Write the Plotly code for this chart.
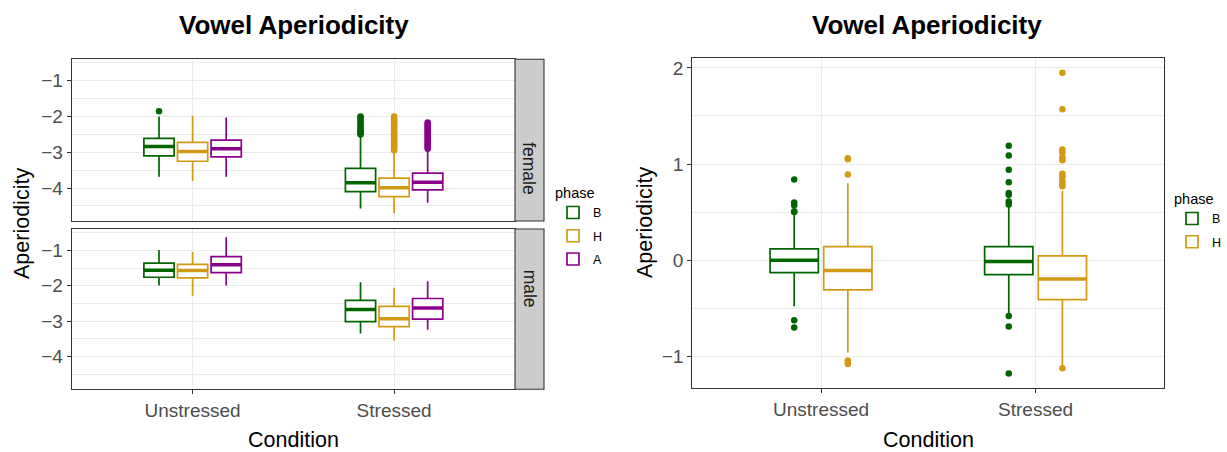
import plotly.graph_objects as go

# ---------------- data ----------------
conditions = ["Unstressed", "Stressed"]
left_phases = ["B", "H", "A"]
right_phases = ["B", "H"]
colors = {"B": "#006400", "H": "#D09A14", "A": "#8B008B"}

# female facet, values per condition [Unstressed, Stressed]
female_lo = {"B": [-3.68, -4.57], "H": [-3.80, -4.70], "A": [-3.68, -4.41]}
female_q1 = {"B": [-3.10, -4.10], "H": [-3.25, -4.24], "A": [-3.13, -4.05]}
female_med = {"B": [-2.84, -3.85], "H": [-2.98, -3.99], "A": [-2.90, -3.84]}
female_q3 = {"B": [-2.61, -3.45], "H": [-2.72, -3.72], "A": [-2.66, -3.58]}
female_hi = {"B": [-2.00, -2.55], "H": [-1.98, -3.00], "A": [-2.03, -2.94]}
female_out = {
    "B": [[-1.85],
          [-2.00, -2.03, -2.09, -2.14, -2.20, -2.26, -2.32, -2.36, -2.41, -2.44, -2.47, -2.50]],
    "H": [[],
          [-2.00, -2.04, -2.08, -2.11, -2.15, -2.19, -2.23, -2.27, -2.30, -2.34, -2.38, -2.42,
           -2.46, -2.50, -2.54, -2.58, -2.62, -2.66, -2.70, -2.74, -2.78, -2.82, -2.86, -2.90, -2.94]],
    "A": [[],
          [-2.17, -2.21, -2.25, -2.30, -2.34, -2.38, -2.43, -2.47, -2.51, -2.56, -2.60, -2.65,
           -2.69, -2.73, -2.78, -2.82, -2.86, -2.90]],
}

# male facet
male_lo = {"B": [-1.99, -3.35], "H": [-2.28, -3.55], "A": [-1.99, -3.24]}
male_q1 = {"B": [-1.76, -3.01], "H": [-1.78, -3.15], "A": [-1.63, -2.94]}
male_med = {"B": [-1.56, -2.67], "H": [-1.57, -2.93], "A": [-1.41, -2.63]}
male_q3 = {"B": [-1.36, -2.41], "H": [-1.40, -2.58], "A": [-1.18, -2.36]}
male_hi = {"B": [-0.99, -1.90], "H": [-1.05, -2.06], "A": [-0.63, -1.87]}
male_out = {"B": [[], []], "H": [[], []], "A": [[], []]}

# right panel (normalised)
all_lo = {"B": [-0.48, -0.56], "H": [-0.96, -1.10]}
all_q1 = {"B": [-0.13, -0.15], "H": [-0.31, -0.41]}
all_med = {"B": [0.00, -0.015], "H": [-0.108, -0.195]}
all_q3 = {"B": [0.118, 0.14], "H": [0.14, 0.045]}
all_hi = {"B": [0.47, 0.56], "H": [0.80, 0.72]}
all_out = {
    "B": [[0.84, 0.60, 0.57, 0.51, 0.50, -0.625, -0.70],
          [1.19, 1.09, 0.94, 0.81, 0.70, 0.68, 0.61, 0.58, -0.58, -0.69, -1.18]],
    "H": [[1.06, 1.05, 0.89, -1.045, -1.06, -1.08],
          [1.95, 1.57, 1.15, 1.12, 1.07, 1.04, 0.90, 0.88, 0.86, 0.82, 0.79, 0.77, -1.125]],
}

left_yticks = [-4, -3, -2, -1]
left_yminor = [-4.5, -3.5, -2.5, -1.5, -0.5]
right_yticks = [-1, 0, 1, 2]
right_yminor = [-0.5, 0.5, 1.5]

# ---------------- layout helpers ----------------
W, H = 1227, 452
FONT = "Liberation Sans"
TICKC = "#4D4D4D"
BORDER = "#333333"
GRID = "#EBEBEB"


def fx(x):
    return x / W


def fy(y):
    return 1 - y / H


fig = go.Figure()


def add_panel(xa, ya, phases, lo, q1, med, q3, hi, out, legend, showlegend):
    n = len(phases)
    dodge = 0.5
    slot = dodge / n
    bw = slot * 0.9
    for i, ph in enumerate(phases):
        offs = (i - (n - 1) / 2) * slot
        pos = [j + 1 + offs for j in range(len(conditions))]
        col = colors[ph]
        fig.add_trace(go.Box(
            x=pos, q1=q1[ph], median=med[ph], q3=q3[ph],
            lowerfence=lo[ph], upperfence=hi[ph],
            width=bw, whiskerwidth=0, boxpoints=False,
            fillcolor="white", line=dict(color=col, width=1.7),
            name=ph, legendgroup=ph, showlegend=showlegend,
            legend=legend, xaxis=xa, yaxis=ya, hoverinfo="skip",
        ))
        for j in range(len(conditions)):
            fig.add_trace(go.Scatter(
                x=[pos[j] - bw / 2, pos[j] + bw / 2], y=[med[ph][j], med[ph][j]],
                mode="lines", line=dict(color=col, width=3.5),
                showlegend=False, xaxis=xa, yaxis=ya, hoverinfo="skip",
            ))
            if out[ph][j]:
                fig.add_trace(go.Scatter(
                    x=[pos[j]] * len(out[ph][j]), y=out[ph][j], mode="markers",
                    marker=dict(color=col, size=6.5, line=dict(width=0)),
                    showlegend=False, xaxis=xa, yaxis=ya, hoverinfo="skip",
                ))


add_panel("x", "y", left_phases, female_lo, female_q1, female_med, female_q3, female_hi,
          female_out, "legend", True)
add_panel("x2", "y2", left_phases, male_lo, male_q1, male_med, male_q3, male_hi,
          male_out, "legend", False)
add_panel("x3", "y3", right_phases, all_lo, all_q1, all_med, all_q3, all_hi,
          all_out, "legend2", True)

LX = [fx(71.7), fx(515)]
TOPY = [fy(221), fy(59.3)]
BOTY = [fy(389.3), fy(229)]
RX = [fx(692.3), fx(1164.3)]
RY = [fy(388.3), fy(58.3)]

xcommon = dict(range=[0.4, 2.6], tickmode="array", tickvals=[1, 2], ticktext=conditions,
               showgrid=True, gridcolor=GRID, gridwidth=1.1, zeroline=False,
               showline=True, mirror=True, linecolor=BORDER, linewidth=1.1,
               tickfont=dict(family=FONT, size=19, color=TICKC), tickcolor=BORDER)
ycommon = dict(showgrid=True, gridcolor=GRID, gridwidth=1.1, zeroline=False,
               showline=True, mirror=True, linecolor=BORDER, linewidth=1.1,
               ticks="outside", ticklen=4, tickcolor=BORDER, tickwidth=1,
               tickfont=dict(family=FONT, size=19, color=TICKC), tickmode="array")

fig.update_layout(
    xaxis=dict(domain=LX, anchor="y", showticklabels=False, ticks="", **xcommon),
    yaxis=dict(domain=TOPY, anchor="x", range=[-4.92, -0.40], tickvals=left_yticks,
               minor=dict(tickvals=left_yminor, showgrid=True, gridcolor=GRID, gridwidth=0.6, ticks=""),
               **ycommon),
    xaxis2=dict(domain=LX, anchor="y2", ticks="outside", ticklen=4, **xcommon),
    yaxis2=dict(domain=BOTY, anchor="x2", range=[-4.92, -0.40], tickvals=left_yticks,
                minor=dict(tickvals=left_yminor, showgrid=True, gridcolor=GRID, gridwidth=0.6, ticks=""),
                **ycommon),
    xaxis3=dict(domain=RX, anchor="y3", ticks="outside", ticklen=4, **xcommon),
    yaxis3=dict(domain=RY, anchor="x3", range=[-1.333, 2.10], tickvals=right_yticks,
                minor=dict(tickvals=right_yminor, showgrid=True, gridcolor=GRID, gridwidth=0.6, ticks=""),
                **ycommon),
    boxmode="overlay",
    width=W, height=H, autosize=False,
    margin=dict(l=0, r=0, t=0, b=0),
    paper_bgcolor="white", plot_bgcolor="white",
    font=dict(family=FONT, color="black"),
    legend=dict(x=fx(553), y=fy(179), xanchor="left", yanchor="top",
                title=dict(text="phase", font=dict(size=14.5, family=FONT)),
                font=dict(size=12.5, family=FONT), bgcolor="rgba(0,0,0,0)",
                tracegroupgap=4, itemwidth=30),
    legend2=dict(x=fx(1172), y=fy(185), xanchor="left", yanchor="top",
                 title=dict(text="phase", font=dict(size=14.5, family=FONT)),
                 font=dict(size=12.5, family=FONT), bgcolor="rgba(0,0,0,0)",
                 tracegroupgap=4, itemwidth=30),
)

# facet strips
for label, (y0, y1) in [("female", (59.3, 221)), ("male", (229, 389.3))]:
    fig.add_shape(type="rect", xref="paper", yref="paper",
                  x0=fx(515), x1=fx(544), y0=fy(y1), y1=fy(y0),
                  fillcolor="#CCCCCC", line=dict(color=BORDER, width=1.1), layer="above")
    fig.add_annotation(text=label, xref="paper", yref="paper",
                       x=fx(529.5), y=fy((y0 + y1) / 2), showarrow=False, textangle=90,
                       font=dict(family=FONT, size=17.5, color="#1A1A1A"))

# titles and axis titles
for txt, x, y, size, bold, angle in [
    ("Vowel Aperiodicity", 294, 25, 26, True, 0),
    ("Vowel Aperiodicity", 927, 25, 26, True, 0),
    ("Condition", 293, 440, 21.5, False, 0),
    ("Condition", 928, 440, 21.5, False, 0),
    ("Aperiodicity", 22, 224, 21.5, False, -90),
    ("Aperiodicity", 645, 223, 21.5, False, -90),
]:
    fig.add_annotation(text=f"<b>{txt}</b>" if bold else txt, xref="paper", yref="paper",
                       x=fx(x), y=fy(y), showarrow=False, textangle=angle,
                       xanchor="center", yanchor="middle",
                       font=dict(family=FONT, size=size, color="black"))

fig.write_html("out.html")
